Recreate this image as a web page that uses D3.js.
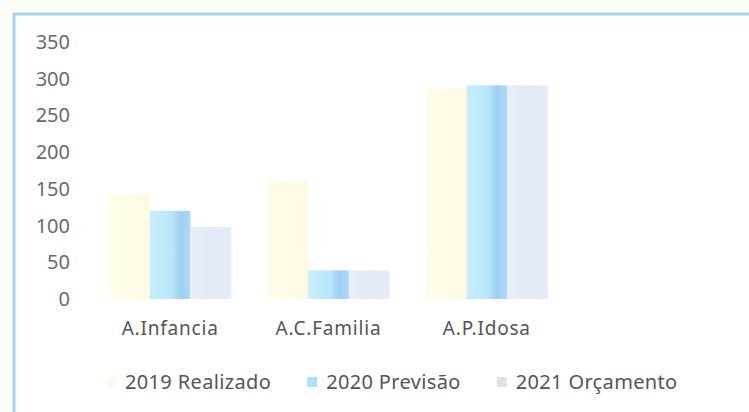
<!DOCTYPE html>
<html lang="pt">
<head>
<meta charset="UTF-8">
<script src="https://d3js.org/d3.v7.min.js"></script>
<style>
    body { margin: 0; background: #fff; }
    svg { display: block; }
    .tick-label { font-family: "Noto Sans", sans-serif; font-size: 20px; fill: #6a6a6a; }
    .cat-label { font-family: "Noto Sans", sans-serif; font-size: 19px; fill: #555; }
    .legend-label { font-family: "Noto Sans", sans-serif; font-size: 20px; fill: #555; }
</style>
</head>
<body>
<svg id="chart" width="749" height="412"></svg>
<script>
    // values
    let categories = ["A.Infancia", "A.C.Familia", "A.P.Idosa"]
    let seriesNames = ["2019 Realizado", "2020 Previsão", "2021 Orçamento"]
    let realizado2019 = [143, 160, 287]
    let previsao2020 = [120, 39, 291]
    let orcamento2021 = [98, 39, 291]
    let yTicks = [0, 50, 100, 150, 200, 250, 300, 350]

    let seriesValues = [realizado2019, previsao2020, orcamento2021]

    let svg = d3.select("#chart")

    // faint cream scan edge above the frame
    svg.append("rect").attr("x", 0).attr("y", 0).attr("width", 749).attr("height", 12).attr("fill", "#fdfcf4")
    svg.append("rect").attr("x", 0).attr("y", 0).attr("width", 12).attr("height", 412).attr("fill", "#fcfcf8")

    // gradients for the bars
    let defs = svg.append("defs")
    let gradStops = [
        [["0%", "#fffde9"], ["100%", "#fdf9e3"]],
        [["0%", "#c6eefb"], ["55%", "#b9e6f9"], ["75%", "#9ccff3"], ["100%", "#b0d9f5"]],
        [["0%", "#e9eff9"], ["50%", "#e2e9f7"], ["100%", "#e6ecf8"]]
    ]
    gradStops.forEach((stops, i) => {
        let g = defs.append("linearGradient").attr("id", "grad" + i)
        g.selectAll("stop").data(stops).enter().append("stop")
            .attr("offset", d => d[0]).attr("stop-color", d => d[1])
    })

    let y = d3.scaleLinear().domain([0, 350]).range([299, 42])
    let x0 = d3.scaleBand().domain(categories).range([91, 566]).padding(0)
    let x1 = d3.scaleBand().domain(seriesNames).range([18, x0.bandwidth() - 18]).padding(0)

    // frame (left and top edge of the scanned chart box)
    svg.append("path")
        .attr("d", "M14,412 V14 H749")
        .attr("fill", "none")
        .attr("stroke", "#a3d5e8")
        .attr("stroke-width", 3)

    // y tick labels
    svg.append("g").selectAll("text")
        .data(yTicks).enter().append("text")
        .attr("class", "tick-label")
        .attr("x", 70)
        .attr("y", d => y(d))
        .attr("dy", "0.35em")
        .attr("text-anchor", "end")
        .text(d => d)

    // bars
    let groups = svg.append("g").selectAll("g")
        .data(categories).enter().append("g")
        .attr("transform", d => `translate(${x0(d)},0)`)

    groups.selectAll("rect")
        .data((c, ci) => seriesNames.map((s, si) => ({s: s, si: si, v: seriesValues[si][ci]})))
        .enter().append("rect")
        .attr("x", d => x1(d.s))
        .attr("width", x1.bandwidth())
        .attr("y", d => y(d.v))
        .attr("height", d => y(0) - y(d.v))
        .attr("fill", d => `url(#grad${d.si})`)

    // category labels
    svg.append("g").selectAll("text")
        .data(categories).enter().append("text")
        .attr("class", "cat-label")
        .attr("x", d => x0(d) + x0.bandwidth() / 2)
        .attr("y", 328)
        .attr("dy", "0.35em")
        .attr("text-anchor", "middle")
        .attr("letter-spacing", 0.8)
        .text(d => d)

    // legend
    let swatchColors = ["#fdfaea", "#ade3f0", "#e0e2e9"]
    let legend = svg.append("g")
    let lx = 106
    seriesNames.forEach((name, i) => {
        let item = legend.append("g").attr("transform", `translate(${lx},382)`)
        item.append("rect").attr("x", 0).attr("y", -5).attr("width", 10).attr("height", 10)
            .attr("fill", swatchColors[i])
        let t = item.append("text")
            .attr("class", "legend-label")
            .attr("x", 19)
            .attr("dy", "0.35em")
            .attr("letter-spacing", 0.35)
            .text(name)
        lx += 19 + t.node().getComputedTextLength() + 36
    })
</script>
</body>
</html>
